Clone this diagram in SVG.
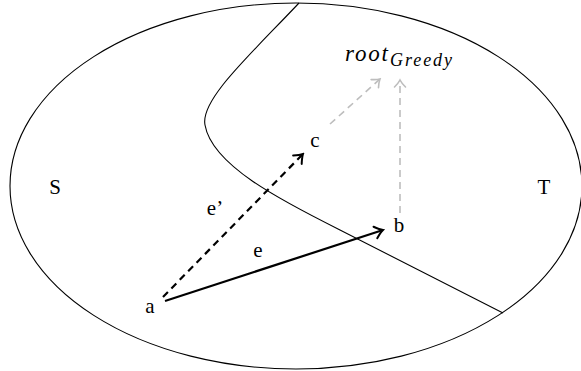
<svg xmlns="http://www.w3.org/2000/svg" width="581" height="371" viewBox="0 0 581 371">
<style>
text{font-family:"Liberation Serif","DejaVu Serif",serif;font-size:21px;fill:#000;text-anchor:middle;dominant-baseline:central}
.it{font-style:italic;text-anchor:start;dominant-baseline:alphabetic}
.thin{fill:none;stroke:#000;stroke-width:1.1}
.blk{fill:none;stroke:#000;stroke-width:2.2}
.dash{stroke-dasharray:7 5}
.gray{fill:none;stroke:#bdbdbd;stroke-width:1.6;stroke-dasharray:7 5}
</style>
<defs>
<marker id="ah" markerUnits="userSpaceOnUse" viewBox="-10 -8 12 16" markerWidth="12" markerHeight="16" refX="0" refY="0" orient="auto">
<path d="M-8,-6 Q-3,-1.5 0,0 Q-3,1.5 -8,6" fill="none" stroke="#000" stroke-width="2" stroke-linecap="round"/>
</marker>
<marker id="ag" markerUnits="userSpaceOnUse" viewBox="-10 -8 12 16" markerWidth="12" markerHeight="16" refX="0" refY="0" orient="auto">
<path d="M-7,-5.5 Q-3,-1.5 0,0 Q-3,1.5 -7,5.5" fill="none" stroke="#bdbdbd" stroke-width="1.6" stroke-linecap="round"/>
</marker>
</defs>
<g id="regions">
<ellipse class="thin" cx="296" cy="186" rx="286" ry="183"/>
<path class="thin" d="M299,3 C250,55 200,100 205,125 C212,165 280,200 340,230 L503,313"/>
</g>
<g id="connectors">
<line class="blk" x1="165" y1="301" x2="383" y2="230" marker-end="url(#ah)"/>
<line class="blk dash" x1="163" y1="297" x2="303" y2="154" marker-end="url(#ah)"/>
<line class="gray" x1="330" y1="124" x2="380" y2="79" marker-end="url(#ag)"/>
<line class="gray" x1="400" y1="213" x2="400" y2="80" marker-end="url(#ag)"/>
</g>
<g id="node-a"><text x="150" y="306">a</text></g>
<g id="node-b"><text x="399" y="225">b</text></g>
<g id="node-c"><text x="315" y="140">c</text></g>
<g id="node-root"><text class="it" x="345" y="61" style="font-size:23px" textLength="43">root</text><text class="it" x="390" y="66" style="font-size:18px" textLength="62">Greedy</text></g>
<g id="label-S"><text x="55" y="187">S</text></g>
<g id="label-T"><text x="544" y="187">T</text></g>
<g id="label-e1"><text x="215" y="208">e’</text></g>
<g id="label-e"><text x="258" y="250">e</text></g>
</svg>
